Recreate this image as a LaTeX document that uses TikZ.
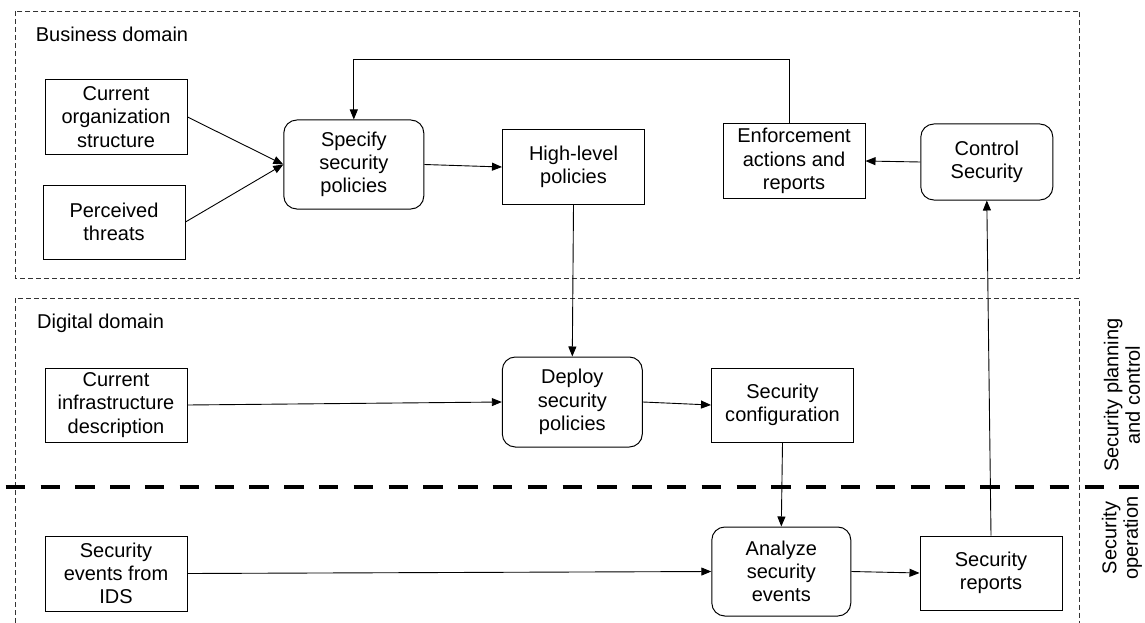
\documentclass[tikz,border=0pt]{standalone}
\usepackage{fontspec}
\setmainfont{Liberation Sans}
\usetikzlibrary{arrows.meta,calc}
\begin{document}
\begin{tikzpicture}[x=1pt,y=-1pt,
  every node/.style={font=\fontsize{20}{23.3}\selectfont, align=center, inner sep=0pt},
  plainbox/.style={draw=black, line width=1pt, minimum width=142pt, minimum height=74pt},
  roundbox/.style={draw=black, line width=1pt, rounded corners=13pt, minimum width=140pt, minimum height=89pt},
  arr/.style={line width=0.9pt, -{Triangle[length=10pt,width=8pt]}},
  domainframe/.style={draw=black!80, line width=0.9pt, dash pattern=on 5pt off 3pt},
  sepline/.style={line width=4pt, dash pattern=on 19.5pt off 15.3pt}]
\useasboundingbox (0,0) rectangle (1145,623);

% domain frames
\draw[domainframe] (15.3,11) rectangle (1079.8,278);
\draw[domainframe] (15.3,623) -- (15.3,298) -- (1079.8,298) -- (1079.8,623);
\node[anchor=base west] (bdl) at (35.6,41.7) {Business domain};
\node[anchor=base west] (ddl) at (37,328.3) {Digital domain};

% separator
\coordinate (sepL) at (5.7,487);
\coordinate (sepR) at (1145,487);
\draw[sepline] (sepL) -- (sepR);

% side labels
\node[rotate=90, font=\fontsize{20}{21.5}\selectfont] (spc) at (1122,395) {Security planning\\and control};
\node[rotate=90, font=\fontsize{20}{21.5}\selectfont] (sop) at (1122,538) {Security\\operation};

% business domain nodes
\node[plainbox] (org) at (116,117) {Current\\organization\\structure};
\node[plainbox] (thr) at (114,222) {Perceived\\threats};
\node[roundbox] (spec) at (353.8,164.5) {Specify\\security\\policies};
\node[plainbox] (high) at (573.5,167) {High-level\\policies};
\node[plainbox] (enf) at (794,161) {Enforcement\\actions and\\reports};
\node[roundbox, minimum width=132pt, minimum height=76pt] (ctrl) at (986.8,162) {Control\\Security};

% digital domain nodes
\node[plainbox] (infra) at (116,405) {Current\\infrastructure\\description};
\node[roundbox, minimum height=90pt] (deploy) at (572.3,402) {Deploy\\security\\policies};
\node[plainbox] (conf) at (782.5,405) {Security\\configuration};
\node[plainbox, minimum height=75pt] (ids) at (116,573.5) {Security\\events from\\IDS};
\node[roundbox, minimum width=139pt] (ana) at (781.3,571.5) {Analyze\\security\\events};
\node[plainbox] (rep) at (991,573) {Security\\reports};

% connectors
\draw[arr] (org.east) -- (spec.west);
\draw[arr] (thr.east) -- (spec.west);
\draw[arr] (spec.east) -- (high.west);
\coordinate (fb) at (353.8,59);
\draw[arr] ([xshift=-4.5pt]enf.north) |- (fb) -- (spec.north);
\draw[arr] (ctrl.west) -- (enf.east);
\draw[arr] (high.south) -- (deploy.north);
\draw[arr] (infra.east) -- (deploy.west);
\draw[arr] (deploy.east) -- (conf.west);
\draw[arr] (conf.south) -- (ana.north);
\draw[arr] (ids.east) -- (ana.west);
\draw[arr] (ana.east) -- (rep.west);
\draw[arr] (rep.north) -- (ctrl.south);
\end{tikzpicture}
\end{document}
